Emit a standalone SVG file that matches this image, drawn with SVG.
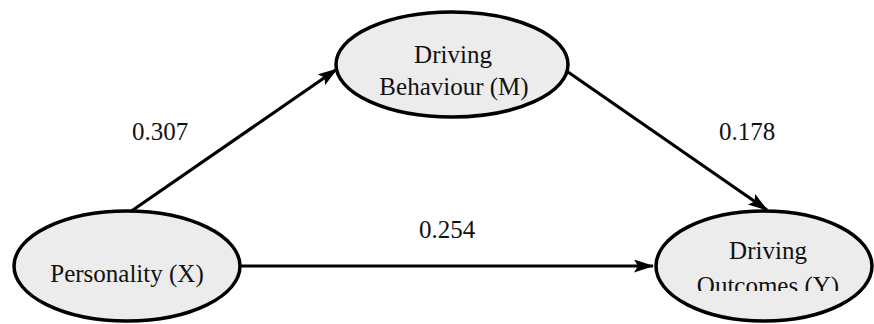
<svg xmlns="http://www.w3.org/2000/svg" width="874" height="324" viewBox="0 0 874 324">
  <style>
    .node ellipse { fill: #ececec; stroke: #000; stroke-width: 3.5; }
    .node text, .label { font-family: "Liberation Serif", "Times New Roman", serif; font-size: 25px; fill: #111; text-anchor: middle; }
    .edge { stroke: #000; stroke-width: 3.2; fill: none; marker-end: url(#arrow); }
  </style>
  <defs>
    <marker id="arrow" viewBox="0 0 20 13" refX="19" refY="6.5" markerWidth="20" markerHeight="13" markerUnits="userSpaceOnUse" orient="auto">
      <path d="M0,0 L20,6.5 L0,13 L4,6.5 z" fill="#000"/>
    </marker>
    <clipPath id="clipY">
      <rect x="600" y="180" width="274" height="111"/>
    </clipPath>
  </defs>

  <g id="connectors">
    <line class="edge" x1="130" y1="212" x2="337" y2="69"/>
    <line class="edge" x1="555" y1="63" x2="767" y2="210"/>
    <line class="edge" x1="241" y1="266" x2="653" y2="266"/>
    <text class="label" x="160" y="140">0.307</text>
    <text class="label" x="747" y="140">0.178</text>
    <text class="label" x="447" y="238">0.254</text>
  </g>

  <g id="node-m" class="node">
    <ellipse cx="452" cy="64.5" rx="116" ry="52.5"/>
    <text x="453" y="63">Driving</text>
    <text x="454" y="95">Behaviour (M)</text>
  </g>

  <g id="node-x" class="node">
    <ellipse cx="127" cy="266" rx="113" ry="55"/>
    <text x="127" y="282">Personality (X)</text>
  </g>

  <g id="node-y" class="node">
    <ellipse cx="764" cy="266" rx="108" ry="55"/>
    <text x="768" y="259">Driving</text>
    <text x="768" y="294" clip-path="url(#clipY)">Outcomes (Y)</text>
  </g>
</svg>
